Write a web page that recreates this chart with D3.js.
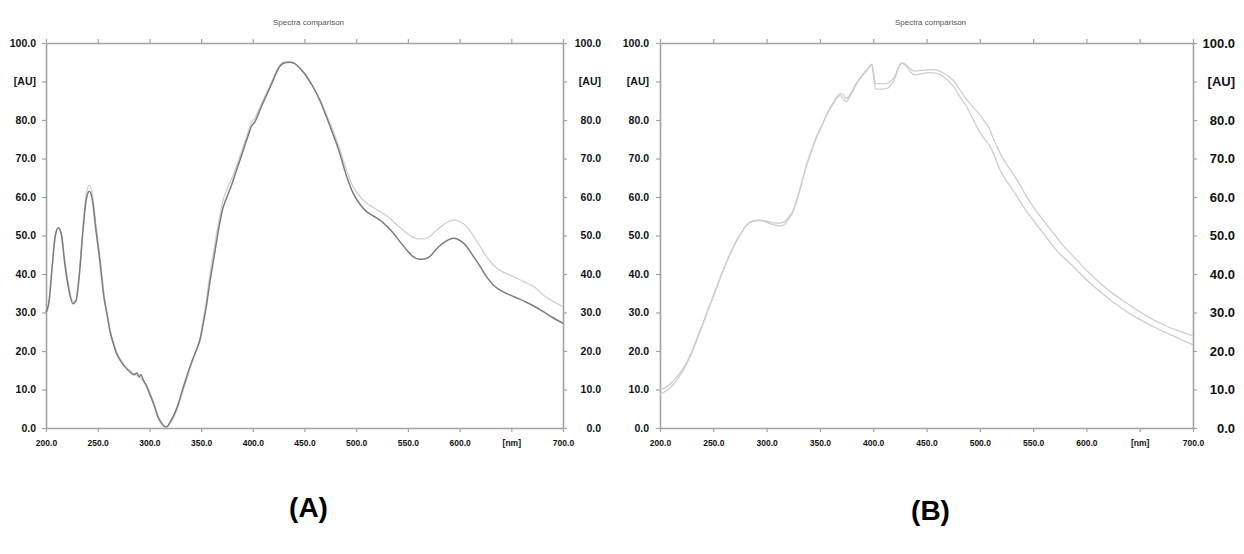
<!DOCTYPE html>
<html>
<head>
<meta charset="utf-8">
<script src="https://cdn.jsdelivr.net/npm/d3@7"></script>
<style>
  html, body { margin: 0; padding: 0; background: #fff; }
  svg { display: block; font-family: "Liberation Sans", Arial, sans-serif; }
</style>
</head>
<body>
<svg id="chart" width="1244" height="554"></svg>
<script>
// ---------- data ----------
const yTicks = [0, 10, 20, 30, 40, 50, 60, 70, 80, 90, 100];
const xTicks = [200, 250, 300, 350, 400, 450, 500, 550, 600, 650, 700];
const chartTitle = "Spectra comparison";
const panelLabels = ["(A)", "(B)"];

// Panel A wavelengths (nm)
const aNm = [200,203,206,209,212,215,218,222,226,229,232,236,239,242,245,248,252,256,259,262,265,268,272,276,281,285,288,290,292,294,297,300,303,305,308,311,314,317,320,323,327,331,336,340,345,349,352,355,358,362,365,368,371,375,380,385,390,395,399,402,406,410,415,420,425,430,435,440,446,452,458,465,471,478,484,490,497,504,510,517,523,530,536,542,549,555,561,566,571,577,584,590,595,601,607,613,620,626,633,640,649,657,665,673,681,690,700];
// Panel A dark spectrum
const aDark = [30,33,42,50,52,50,43,36,32.3,33,39,52,59.5,61.5,59,52,43.6,34,29.5,25,22,19.5,17.5,16,14.6,13.8,14.3,13.3,13.8,12.5,11,9,7,5.5,3,1.5,0.5,0.3,1.5,3,5.5,9,13.3,16.5,20,23,27,31.5,37,43.6,48.5,53.2,57,60,63.5,67.5,71.5,75.5,78.5,79.5,82,84.5,87.5,90.5,93.5,94.8,95,94.7,93.3,91.3,88.7,85,81,76,71.4,66,61,58,56.2,55,54,52.3,50.6,48.5,46.2,44.5,43.8,43.9,44.5,46.3,48,49,49.3,48.6,47.1,44.7,41.9,39.3,37,35.7,34.5,33.6,32.6,31.5,30.2,28.7,27.2];
// Panel A light spectrum
const aLight = [30,33,42,50,52,50.3,44,37,32.8,33.5,40,53,61,63,60.5,53.5,45,35,30,25.5,22.5,20,17.8,16.2,15,14.2,13.6,13.2,12.8,12.2,11.2,9.5,7.5,6,3.5,1.8,0.6,0.4,1.2,2.5,5,8.5,12.5,16,19.8,23.5,28,33,39,45.5,50.5,55,59,62,65,68.5,72.5,76.5,79.5,80.5,82.8,85.2,88,91,93.8,95,95.1,94.8,93.4,91.4,88.8,85.3,81.5,77,72.5,67.5,62.7,60,58.4,57.2,56.2,55,53.6,52.2,50.6,49.6,49.1,49.1,49.7,51.2,52.7,53.7,54,53.5,52.3,50,47.1,44.5,42.2,40.8,39.7,38.7,37.6,36.5,34.5,33,31.5];

// Panel B wavelengths (nm)
const bNm = [200,205,210,215,220,225,230,235,240,245,250,256,262,267,272,277,281,287,294,300,306,312,316,320,325,331,337,342,347,352,356,362,366,369,372,375,378,384,390,395,398.5,400.5,402,407,413,417,420.5,424,427,431,435,439,445,453,458,463,470,476,482,488,494,499,504,508,513,519,527,535,542,550,560,569,578,588,600,613,625,638,650,663,675,688,700];
// Panel B upper spectrum
const bUpper = [10,10.5,11.5,13,14.8,17,20,23.5,27,30.8,34.3,38.7,42.8,46,48.8,51,52.7,53.8,54,53.7,53.3,53.2,53.4,54.5,56.6,61.8,67.9,72,75.7,78.8,81.3,84.3,86,86.9,86.5,85.6,86.5,89.5,91.8,93.4,94.5,92,89.5,89.4,89.5,90.2,91.5,93.8,94.9,94.3,93.3,92.7,92.9,93.1,93,92.6,91.5,90,87.6,85.2,83.2,81.7,79.8,78.3,75,71.4,67.7,64.4,61,57.5,53.8,50.6,47.5,44.5,41,37.6,34.9,32.4,30.2,28.1,26.5,25.1,23.9];
// Panel B lower spectrum
const bLower = [8.8,9.5,10.6,12.2,14.2,16.6,19.6,23.2,26.8,30.6,34.1,38.6,42.7,45.9,48.7,51,52.6,53.7,53.9,53.4,52.8,52.5,52.7,54,56.3,61.6,67.7,71.8,75.5,78.6,81.1,84,85.7,86.4,85.5,84.8,86,89.2,91.6,93.2,94.3,91,88.1,88,88.2,89.2,91,93.6,94.8,94,92.5,91.7,92,92.3,92.2,91.8,90.3,88.4,85.8,83.3,80,77.3,75.2,73.9,71.2,67,63.4,60.1,57,54,50.4,47.1,44.4,41.9,38.5,35.4,32.7,30.2,28.2,26.3,24.7,23.1,21.6];

// ---------- drawing ----------
const svg = d3.select("#chart");
const yTop = 43, yBottom = 428;
const axisColor = "#a3a3a3";

const panels = [
  { x0: 46, x1: 563, leftPad: 6, rightEnd: 38, rightSize: 10.5, label: panelLabels[0], labelY: 517,
    series: [ { nm: aNm, v: aLight, color: "#cfcfcf", w: 1.3 }, { nm: aNm, v: aDark, color: "#7c7c7c", w: 1.5 } ] },
  { x0: 660, x1: 1193, leftPad: 7, rightEnd: 42, rightSize: 13, label: panelLabels[1], labelY: 520,
    series: [ { nm: bNm, v: bUpper, color: "#cdcdcd", w: 1.3 }, { nm: bNm, v: bLower, color: "#cdcdcd", w: 1.3 } ] }
];

const yFmt = d => d === 90 ? "[AU]" : d.toFixed(1);
const xFmt = d => d === 650 ? "[nm]" : d.toFixed(1);

panels.forEach(p => {
  const x = d3.scaleLinear().domain([200, 700]).range([p.x0, p.x1]);
  const y = d3.scaleLinear().domain([0, 100]).range([yBottom, yTop]);
  const g = svg.append("g");

  // title
  g.append("text")
    .attr("x", (p.x0 + p.x1) / 2 + 4).attr("y", 25)
    .attr("text-anchor", "middle")
    .attr("font-size", 8).attr("fill", "#555")
    .text(chartTitle);

  function styleAxis(sel) {
    sel.selectAll("path.domain").attr("stroke", axisColor).attr("stroke-width", 1.6);
    sel.selectAll(".tick line").attr("stroke", axisColor).attr("stroke-width", 1.2);
    sel.selectAll("text").attr("fill", "#111").attr("font-weight", "bold")
      .attr("font-family", "'Liberation Sans', Arial, sans-serif");
  }

  // left axis
  const gl = g.append("g").attr("transform", `translate(${p.x0},0)`)
    .call(d3.axisLeft(y).tickValues(yTicks).tickFormat(yFmt).tickSize(4).tickPadding(p.leftPad).tickSizeOuter(0));
  styleAxis(gl);
  gl.selectAll("text").attr("font-size", 10.5);

  // right axis
  const gr = g.append("g").attr("transform", `translate(${p.x1},0)`)
    .call(d3.axisRight(y).tickValues(yTicks).tickFormat(yFmt).tickSize(4).tickSizeOuter(0));
  styleAxis(gr);
  gr.selectAll("text").attr("font-size", p.rightSize).attr("text-anchor", "end").attr("x", p.rightEnd);

  // top axis
  const gt = g.append("g").attr("transform", `translate(0,${yTop})`)
    .call(d3.axisTop(x).tickValues(xTicks).tickFormat("").tickSize(4).tickSizeOuter(0));
  styleAxis(gt);

  // bottom axis
  const gb = g.append("g").attr("transform", `translate(0,${yBottom})`)
    .call(d3.axisBottom(x).tickValues(xTicks).tickFormat(xFmt).tickSize(4).tickPadding(8).tickSizeOuter(0));
  styleAxis(gb);
  gb.selectAll("text").attr("font-size", 8.5);

  // spectra
  const line = d3.line().curve(d3.curveMonotoneX);
  p.series.forEach(s => {
    const pts = s.nm.map((n, i) => [x(n), y(s.v[i])]);
    g.append("path")
      .attr("d", line(pts))
      .attr("fill", "none")
      .attr("stroke", s.color)
      .attr("stroke-width", s.w)
      .attr("stroke-linejoin", "round");
  });

  // panel label
  g.append("text")
    .attr("x", (p.x0 + p.x1) / 2 + 4).attr("y", p.labelY)
    .attr("text-anchor", "middle")
    .attr("font-size", 28).attr("font-weight", "bold").attr("fill", "#000")
    .text(p.label);
});
</script>
</body>
</html>
